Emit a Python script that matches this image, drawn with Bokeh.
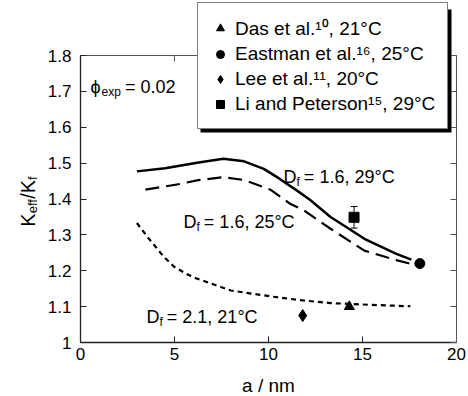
import math
from bokeh.plotting import figure
from bokeh.models import (Range1d, LinearAxis, FixedTicker, Label, Legend, LegendItem,
                          Whisker, ColumnDataSource, TeeHead, CustomLabelingPolicy,
                          BoxAnnotation)
from bokeh.embed import file_html
from bokeh.resources import INLINE

# ---------------- data ----------------
x_ticks = [0, 5, 10, 15, 20]
y_ticks = [1.0, 1.1, 1.2, 1.3, 1.4, 1.5, 1.6, 1.7, 1.8]
y_tick_labels = ["1", "1.1", "1.2", "1.3", "1.4", "1.5", "1.6", "1.7", "1.8"]
x_lim = (0, 20)
y_lim = (1.0, 1.8)

# Df = 1.6, 29 C (solid)
solid_x = [3.0, 4.5, 6.2, 7.6, 8.7, 9.75, 10.6, 11.5, 12.2, 13.3, 14.4, 15.1, 16.8, 17.6]
solid_y = [1.477, 1.486, 1.501, 1.512, 1.505, 1.484, 1.456, 1.424, 1.398, 1.350, 1.313, 1.289, 1.247, 1.231]
# Df = 1.6, 25 C (long dash)
dash_x = [3.45, 5.3, 6.2, 7.6, 8.7, 10.1, 11.17, 11.9, 13.3, 15.1, 16.85, 17.73]
dash_y = [1.426, 1.442, 1.452, 1.461, 1.453, 1.426, 1.386, 1.368, 1.317, 1.256, 1.229, 1.217]
# Df = 2.1, 21 C (short dash)
short_x = [3.0, 3.55, 4.43, 4.96, 5.67, 6.2, 8.0, 9.4, 10.6, 11.88, 13.3, 15.4, 17.55]
short_y = [1.333, 1.295, 1.239, 1.212, 1.190, 1.178, 1.145, 1.134, 1.125, 1.117, 1.110, 1.105, 1.101]

# experimental points
das_x, das_y = [14.3], [1.100]
eastman_x, eastman_y = [18.05], [1.220]
lee_x, lee_y = [11.82], [1.075]
li_x, li_y, li_err = [14.55], [1.349], [0.030]

legend_labels = ["Das et al.\u00b9\u2070, 21\u00b0C",
                 "Eastman et al.\u00b9\u2076, 25\u00b0C",
                 "Lee et al.\u00b9\u00b9, 20\u00b0C",
                 "Li and Peterson\u00b9\u2075, 29\u00b0C"]

curve_labels = [  # (x, y, value text)
    (10.8, 1.4627, "= 1.6, 29\u00b0C"),
    (5.48, 1.3345, "= 1.6, 25\u00b0C"),
    (3.51, 1.0697, "= 2.1, 21\u00b0C"),
]
phi_text = "= 0.02"
x_title = "a / nm"

FONT = "Liberation Sans"
BIG = 18
SMALL = 12

# page geometry (pixels): plot box left/right/top/bottom
W_PX, H_PX = 468, 396
BOX_L, BOX_R, BOX_T, BOX_B = 80, 456, 55, 342
sx_per = (BOX_R - BOX_L) / (x_lim[1] - x_lim[0])
sy_per = (BOX_B - BOX_T) / (y_lim[1] - y_lim[0])


def dx(px):
    return x_lim[0] + (px - BOX_L) / sx_per


def dy_(py):
    return y_lim[0] + (BOX_B - py) / sy_per


Wd = {'D': .722, 'f': .278, ' ': .278, '=': .584, '.': .278, ',': .278, '\u00b0': .4,
      'C': .722, 'e': .556, 'x': .5, 'p': .556, 'K': .667, '/': .278, '\u03d5': .62}


def tw(s, size):
    return sum(Wd.get(c, .556) for c in s) * size


p = figure(width=W_PX, height=H_PX, output_backend="svg", toolbar_location=None,
           title=None,
           x_range=Range1d(dx(0), dx(W_PX)), y_range=Range1d(dy_(H_PX), dy_(0)),
           min_border_left=0, min_border_right=0, min_border_top=0, min_border_bottom=0)
p.grid.visible = False
p.outline_line_color = None
p.background_fill_color = "white"
p.border_fill_color = "white"

AX = "#222222"
no_labels = CustomLabelingPolicy(code="for (const i of indices) indices.unset(i)")

xa = p.xaxis[0]
ya = p.yaxis[0]
xa.fixed_location = y_lim[0]
xa.bounds = x_lim
ya.fixed_location = x_lim[0]
ya.bounds = y_lim
for ax in (xa, ya):
    ax.axis_line_color = AX
    ax.axis_line_width = 1.3
    ax.major_tick_line_color = AX
    ax.major_tick_in = 6
    ax.major_tick_out = 0
    ax.minor_tick_line_color = None
    ax.major_label_text_font = FONT
    ax.major_label_text_font_size = "17px"
    ax.major_label_text_color = "black"
xa.ticker = FixedTicker(ticks=x_ticks)
ya.ticker = FixedTicker(ticks=y_ticks)
ya.major_label_overrides = dict(zip(y_ticks, y_tick_labels))
xa.major_label_standoff = 5
ya.major_label_standoff = 9

top = LinearAxis(ticker=FixedTicker(ticks=x_ticks), fixed_location=y_lim[1], bounds=x_lim,
                 major_label_policy=no_labels, major_label_text_font_size="10px",
                 axis_line_color="#555555", axis_line_width=1,
                 major_tick_in=6, major_tick_out=0, major_tick_line_color="#555555",
                 minor_tick_line_color=None)
right = LinearAxis(ticker=FixedTicker(ticks=y_ticks), fixed_location=x_lim[1], bounds=y_lim,
                   major_label_policy=no_labels, major_label_text_font_size="10px",
                   axis_line_color="#555555", axis_line_width=1,
                   major_tick_in=6, major_tick_out=0, major_tick_line_color="#555555",
                   minor_tick_line_color=None)
p.add_layout(top, "above")
p.add_layout(right, "right")

# curves
p.line(solid_x, solid_y, line_color="black", line_width=2.5)
p.line(dash_x, dash_y, line_color="black", line_width=2.2, line_dash="14 7")
p.line(short_x, short_y, line_color="black", line_width=2.2, line_dash="5 4")

# points
li_src = ColumnDataSource(dict(x=li_x, y=li_y,
                               lo=[v - e for v, e in zip(li_y, li_err)],
                               hi=[v + e for v, e in zip(li_y, li_err)]))
p.add_layout(Whisker(base="x", lower="lo", upper="hi", source=li_src,
                     line_color="black", line_width=1,
                     upper_head=TeeHead(size=7, line_color="black", line_width=1),
                     lower_head=TeeHead(size=7, line_color="black", line_width=1)))
r_das = p.scatter(das_x, das_y, marker="triangle", size=10, color="black")
r_east = p.scatter(eastman_x, eastman_y, marker="circle", size=10, color="black")
r_lee = p.scatter(lee_x, lee_y, marker="diamond", size=12, color="black")
r_li = p.scatter(li_x, li_y, marker="square", size=10, color="black")
rends = [r_das, r_east, r_lee, r_li]

# legend with drop shadow
LEG_L, LEG_B, LEG_R, LEG_T = 197, 129, 448, 6
SH = 3
p.add_layout(BoxAnnotation(left=dx(LEG_L + SH), right=dx(LEG_R + SH),
                           top=dy_(LEG_T + SH), bottom=dy_(LEG_B + SH),
                           fill_color="black", fill_alpha=1, line_color=None))
legend = Legend(items=[LegendItem(label=l, renderers=[r]) for l, r in zip(legend_labels, rends)],
                location=(LEG_L, H_PX - LEG_B),
                label_text_font=FONT, label_text_font_size="19px", label_height=24,
                label_standoff=5, glyph_width=20, glyph_height=24, spacing=1, padding=12,
                margin=0, orientation="vertical",
                border_line_color="black", border_line_width=1.3,
                background_fill_color="white", background_fill_alpha=1,
                label_text_color="black")
p.add_layout(legend, "center")


def rich(x, y, pieces, gap_after=None):
    off = 0.0
    for k, (text, size, d) in enumerate(pieces):
        p.add_layout(Label(x=x, y=y, x_offset=off, y_offset=d,
                           text=text, text_font=FONT, text_font_size=f"{size}px",
                           text_color="black", text_align="left",
                           text_baseline="alphabetic"))
        off += tw(text, size)
        if gap_after and k in gap_after:
            off += gap_after[k]


for cx, cy, txt in curve_labels:
    rich(cx, cy, [("D", BIG, 0), ("f", SMALL, -5), (txt, BIG, 0)], gap_after={1: 4})

rich(0.53, 1.711, [("\u03d5", BIG, 0), ("exp", SMALL, -5), (phi_text, BIG, 0)],
     gap_after={1: 4})

# y axis title (rotated)
ylab = [("K", 20, 0), ("eff", 13, -5), ("/K", 20, 0), ("f", 13, -5)]
total = sum(tw(t, s) for t, s, _ in ylab)
off = -total / 2
for t, s, d in ylab:
    p.add_layout(Label(x=dx(27), y=dy_(201), x_offset=-d, y_offset=off, angle=math.pi / 2,
                       text=t, text_font=FONT, text_font_size=f"{s}px", text_color="black",
                       text_align="left", text_baseline="alphabetic"))
    off += tw(t, s)

# x axis title
p.add_layout(Label(x=(x_lim[0] + x_lim[1]) / 2, y=dy_(385), text=x_title, text_font=FONT,
                   text_font_size="19px", text_color="black", text_align="center",
                   text_baseline="alphabetic"))

open("out.html", "w").write(file_html(p, INLINE))
